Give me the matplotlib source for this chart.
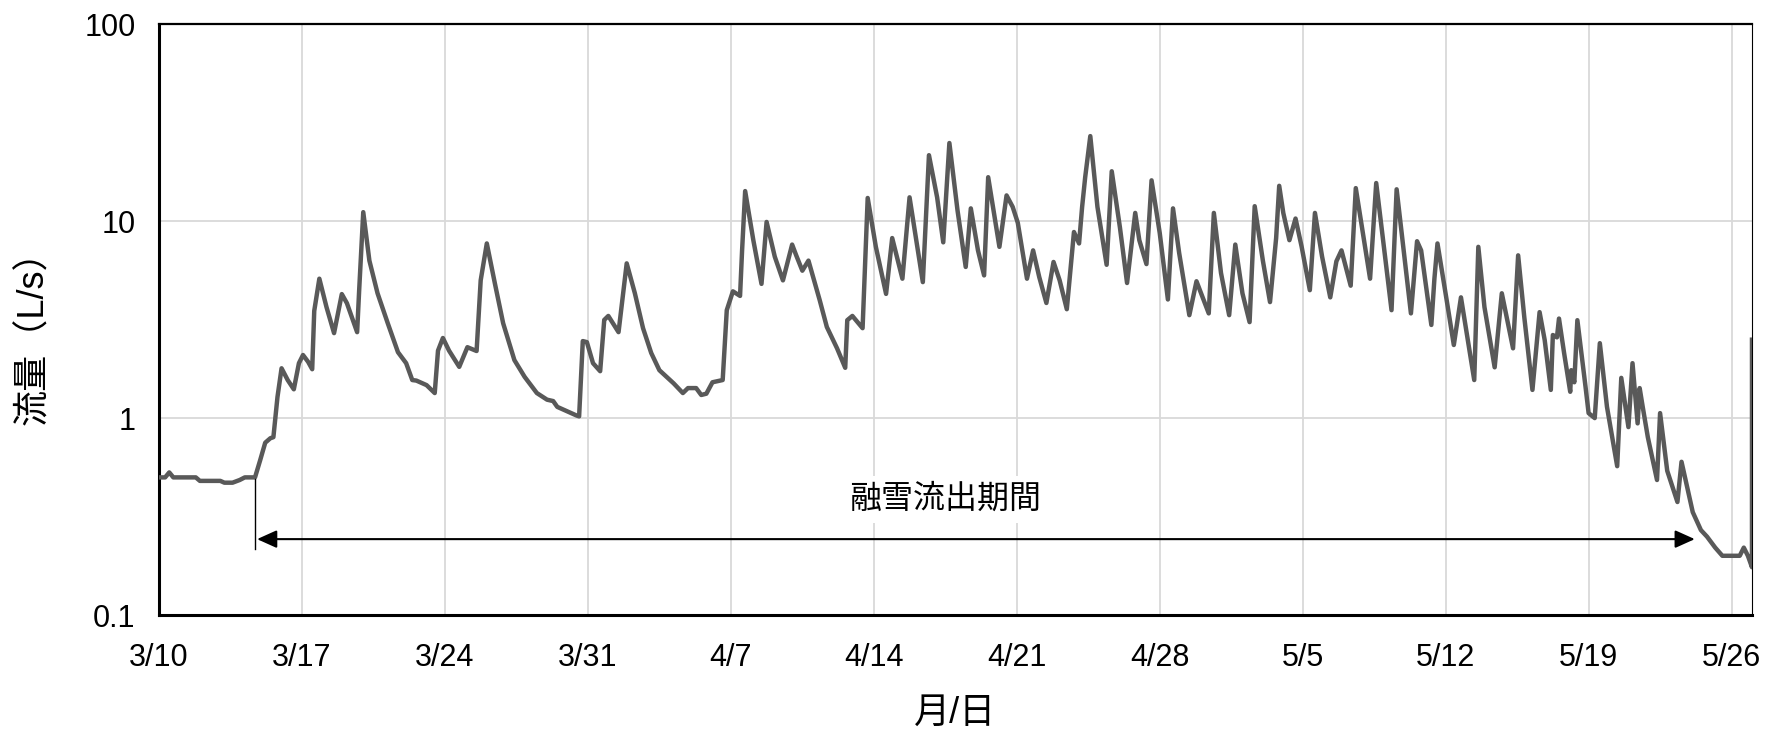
import matplotlib
matplotlib.use("Agg")
import matplotlib.pyplot as plt
import numpy as np

plt.rcParams['font.family'] = ['Liberation Sans', 'Noto Sans CJK JP']

# days counted from 3/10 0:00, flow in L/s
days = [0.0, 0.3, 0.5, 0.7, 1.8, 2.0, 3.0, 3.2, 3.6, 3.95, 4.2, 4.7, 4.95, 5.2, 5.45, 5.6,
        5.8, 6.0, 6.3, 6.6, 6.85, 7.05, 7.3, 7.5, 7.6, 7.85, 8.2, 8.57, 8.95, 9.2, 9.7, 9.8,
        10.0, 10.3, 10.7, 11.2, 11.7, 12.1, 12.4, 12.6, 13.1, 13.5, 13.66, 13.9, 14.2, 14.7,
        15.1, 15.55, 15.75, 16.05, 16.45, 16.85, 17.4, 17.9, 18.5, 19.0, 19.3, 19.5, 20.0,
        20.45, 20.57, 20.75, 20.95, 21.25, 21.6, 21.8, 22.0, 22.5, 22.9, 23.3, 23.7, 24.1,
        24.5, 25.2, 25.65, 25.9, 26.3, 26.55, 26.8, 27.1, 27.6, 27.8, 28.1, 28.45, 28.55,
        28.7, 29.1, 29.5, 29.75, 30.15, 30.55, 31.0, 31.2, 31.5, 31.8, 32.35, 32.7, 33.2,
        33.6, 33.7, 33.95, 34.45, 34.7, 35.1, 35.6, 35.9, 36.4, 36.75, 37.4, 37.7, 38.1,
        38.4, 38.7, 39.1, 39.5, 39.75, 40.1, 40.4, 40.6, 41.15, 41.5, 41.8, 42.05, 42.5,
        42.8, 43.1, 43.45, 43.8, 44.1, 44.45, 44.8, 45.05, 45.2, 45.35, 45.6, 45.95, 46.4,
        46.65, 47.05, 47.4, 47.8, 48.0, 48.35, 48.6, 49.0, 49.4, 49.65, 49.95, 50.45, 50.8,
        51.4, 51.65, 52.0, 52.4, 52.7, 53.05, 53.4, 53.65, 54.05, 54.4, 54.7, 54.85, 55.05,
        55.35, 55.65, 55.95, 56.35, 56.6, 56.95, 57.35, 57.65, 57.9, 58.35, 58.6, 59.3,
        59.6, 60.35, 60.6, 61.3, 61.6, 61.8, 62.3, 62.45, 62.6, 63.05, 63.4, 63.75, 64.4,
        64.6, 64.9, 65.4, 65.75, 66.3, 66.55, 66.85, 67.25, 67.6, 67.85, 68.15, 68.25,
        68.45, 68.55, 68.8, 69.1, 69.15, 69.3, 69.45, 69.85, 70.0, 70.3, 70.55, 70.9, 71.4,
        71.6, 71.95, 72.15, 72.4, 72.5, 72.65, 72.9, 73.35, 73.5, 73.85, 74.35, 74.55,
        74.75, 75.1, 75.5, 75.8, 76.2, 76.55, 77.4, 77.6, 77.8, 78.0, 78.0]
flow = [0.50, 0.50, 0.53, 0.50, 0.50, 0.48, 0.48, 0.47, 0.47, 0.485, 0.50, 0.50, 0.61, 0.75, 0.79, 0.80,
        1.28, 1.79, 1.56, 1.40, 1.90, 2.09, 1.93, 1.77, 3.5, 5.1, 3.66, 2.7, 4.26, 3.83, 2.73, 4.46,
        11.1, 6.3, 4.3, 3.03, 2.16, 1.9, 1.56, 1.55, 1.47, 1.34, 2.2, 2.55, 2.2, 1.82,
        2.29, 2.19, 5.0, 7.7, 4.8, 3.03, 1.97, 1.62, 1.34, 1.24, 1.22, 1.14, 1.08,
        1.03, 1.02, 2.46, 2.43, 1.9, 1.73, 3.15, 3.3, 2.73, 6.1, 4.3, 2.86, 2.14,
        1.75, 1.5, 1.34, 1.42, 1.42, 1.31, 1.33, 1.52, 1.56, 3.53, 4.4, 4.17, 7.1,
        14.2, 8.0, 4.8, 9.9, 6.6, 5.0, 7.6, 6.7, 5.6, 6.3, 3.97, 2.9, 2.26,
        1.80, 3.14, 3.3, 2.86, 13.1, 7.4, 4.27, 8.2, 5.1, 13.2, 4.9, 21.6, 13.2,
        7.8, 24.9, 11.3, 5.85, 11.6, 7.1, 5.3, 16.7, 7.4, 13.5, 11.8, 9.8, 5.1,
        7.1, 5.2, 3.84, 6.2, 5.0, 3.57, 8.8, 7.7, 11.8, 16.7, 27.0, 11.8, 6.0,
        17.9, 9.3, 4.85, 11.0, 8.0, 6.05, 16.1, 8.7, 4.0, 11.6, 6.9, 3.33, 4.95,
        3.4, 11.0, 5.45, 3.33, 7.6, 4.3, 3.07, 11.9, 6.3, 3.88, 8.2, 15.1, 11.0,
        8.0, 10.3, 7.4, 4.46, 11.0, 6.6, 4.1, 6.25, 7.1, 4.7, 14.7, 5.1,
        15.6, 3.53, 14.5, 3.4, 7.9, 7.1, 2.97, 5.1, 7.7, 3.97, 2.35, 4.1, 1.56,
        7.4, 3.66, 1.81, 4.3, 2.26, 6.7, 3.26, 1.39, 3.45, 2.49, 1.39, 2.64,
        2.57, 3.2, 2.14, 1.36, 1.75, 1.52, 3.14, 1.44, 1.06, 1.0, 2.4, 1.14, 0.57,
        1.6, 0.9, 1.9, 0.94, 1.42, 1.14, 0.8, 0.485, 1.06, 0.54, 0.375, 0.6,
        0.485, 0.333, 0.27, 0.25, 0.22, 0.2, 0.2, 0.22, 0.2, 0.175, 2.5]

tick_days = [0, 7, 14, 21, 28, 35, 42, 49, 56, 63, 70, 77]
tick_labels = ['3/10', '3/17', '3/24', '3/31', '4/7', '4/14', '4/21', '4/28',
               '5/5', '5/12', '5/19', '5/26']
y_ticks = [0.1, 1, 10, 100]
y_labels = ['0.1', '1', '10', '100']

# snowmelt period (start / end in days)
melt_start = 4.8
melt_end = 75.2

fig = plt.figure(figsize=(17.67, 7.34), dpi=100)
ax = fig.add_axes([0.090, 0.162, 0.9015, 0.8052])

ax.plot(days, flow, color='#595959', lw=3.2, zorder=3, solid_joinstyle='round')

ax.set_yscale('log')
ax.set_ylim(0.1, 100)
ax.set_xlim(0, 78)
ax.set_yticks(y_ticks)
ax.set_yticklabels(y_labels)
ax.yaxis.set_minor_locator(matplotlib.ticker.NullLocator())
ax.set_xticks(tick_days)
ax.set_xticklabels(tick_labels)
ax.tick_params(axis='x', length=0, pad=20, labelsize=22)
ax.tick_params(axis='y', length=0, pad=17, labelsize=22)

ax.grid(True, color='#d9d9d9', lw=1.3, zorder=0)
ax.set_axisbelow(True)

for side in ['left', 'bottom']:
    ax.spines[side].set_linewidth(2.2)
ax.spines['top'].set_linewidth(1.6)
ax.spines['right'].set_linewidth(0.8)

ax.set_xlabel('月/日', fontsize=26, va='center')
ax.xaxis.set_label_coords(0.5, -0.166)
ax.set_ylabel('流量（L/s）', fontsize=26, va='center', ha='center')
ax.yaxis.set_label_coords(-0.0785, 0.485)

# marker of melt start and the arrow
ax.plot([4.7, 4.7], [0.49, 0.216], color='black', lw=1.0, zorder=4)
ax.annotate('', xy=(melt_end, 0.243), xytext=(melt_start, 0.243),
            arrowprops=dict(arrowstyle='<|-|>,head_length=0.6,head_width=0.27',
                            mutation_scale=20, color='black', lw=1.5,
                            shrinkA=0, shrinkB=0), zorder=4)
ax.text(38.5, 0.384, '融雪流出期間', fontsize=23, ha='center', va='center',
        bbox=dict(facecolor='white', edgecolor='none', pad=6), zorder=2)

fig.savefig('out.png', dpi=100)
